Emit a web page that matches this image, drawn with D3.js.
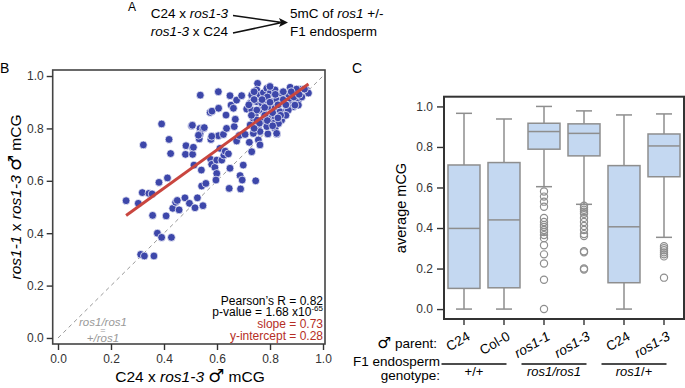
<!DOCTYPE html>
<html>
<head>
<meta charset="utf-8">
<script src="https://cdn.jsdelivr.net/npm/d3@7"></script>
<style>
  body { margin: 0; background: #fff; }
  svg { display: block; font-family: "Liberation Sans", Arial, "DejaVu Sans", sans-serif; }
</style>
</head>
<body>
<svg id="fig" width="685" height="388"></svg>
<script>
// ---- panel B data (reciprocal crosses, mCG) ----
const scatterX = [
  0.257, 0.303, 0.318, 0.322, 0.343, 0.355, 0.357, 0.381, 0.391, 0.408,
  0.413, 0.419, 0.425, 0.433, 0.444, 0.450, 0.457, 0.479, 0.483, 0.481,
  0.496, 0.504, 0.508, 0.508, 0.513, 0.517, 0.526, 0.533, 0.536, 0.536,
  0.541, 0.542, 0.547, 0.548, 0.558, 0.537, 0.574, 0.581, 0.577, 0.576,
  0.580, 0.592, 0.599, 0.596, 0.599, 0.605, 0.606, 0.605, 0.611, 0.618,
  0.624, 0.626, 0.631, 0.636, 0.643, 0.634, 0.646, 0.649, 0.649, 0.653,
  0.662, 0.665, 0.669, 0.674, 0.674, 0.684, 0.689, 0.693, 0.699, 0.687,
  0.695, 0.706, 0.712, 0.722, 0.731, 0.731, 0.746, 0.737, 0.753, 0.756,
  0.762, 0.762, 0.792, 0.823, 0.826, 0.312, 0.326, 0.362, 0.375, 0.391,
  0.428, 0.507, 0.511, 0.530, 0.552, 0.580,
  0.731, 0.750, 0.762, 0.775, 0.788, 0.800, 0.819, 0.832, 0.844, 0.876,
  0.895, 0.913, 0.932, 0.938, 0.725, 0.750, 0.769, 0.788, 0.806, 0.825,
  0.844, 0.863, 0.882, 0.907, 0.731, 0.744, 0.775, 0.794, 0.819, 0.838,
  0.863, 0.888, 0.907, 0.750, 0.775, 0.800, 0.819, 0.844, 0.869, 0.725,
  0.756, 0.788, 0.813, 0.819, 0.825, 0.762, 0.737, 0.832, 0.875, 0.894,
  0.913, 0.945, 0.740, 0.760, 0.780, 0.790, 0.810, 0.830, 0.850, 0.860,
  0.870, 0.890, 0.900, 0.920, 0.800, 0.770, 0.750, 0.730, 0.790, 0.810,
  0.840, 0.860, 0.880, 0.910, 0.930, 0.720, 0.740, 0.820, 0.850, 0.780,
  0.800, 0.830, 0.760, 0.740
];
const scatterY = [
  0.524, 0.514, 0.555, 0.737, 0.552, 0.550, 0.468, 0.594, 0.817, 0.466,
  0.611, 0.758, 0.704, 0.495, 0.518, 0.525, 0.489, 0.535, 0.734, 0.701,
  0.514, 0.810, 0.726, 0.701, 0.660, 0.497, 0.535, 0.760, 0.800, 0.779,
  0.641, 0.580, 0.505, 0.800, 0.590, 0.927, 0.861, 0.866, 0.758, 0.682,
  0.663, 0.651, 0.628, 0.603, 0.679, 0.940, 0.877, 0.772, 0.724, 0.679,
  0.777, 0.698, 0.713, 0.800, 0.703, 0.851, 0.571, 0.648, 0.925, 0.889,
  0.877, 0.807, 0.835, 0.908, 0.752, 0.773, 0.569, 0.925, 0.660, 0.620,
  0.603, 0.777, 0.874, 0.747, 0.711, 0.927, 0.600, 0.838, 0.972, 0.756,
  0.737, 0.787, 0.779, 0.817, 0.779, 0.319, 0.313, 0.313, 0.400, 0.384,
  0.384, 0.812, 0.728, 0.774, 0.803, 0.770,
  0.927, 0.947, 0.927, 0.936, 0.953, 0.934, 0.947, 0.927, 0.934, 0.957,
  0.931, 0.949, 0.936, 0.946, 0.896, 0.902, 0.896, 0.908, 0.902, 0.908,
  0.896, 0.915, 0.902, 0.908, 0.870, 0.851, 0.864, 0.883, 0.877, 0.864,
  0.870, 0.883, 0.889, 0.832, 0.826, 0.839, 0.845, 0.832, 0.870, 0.813,
  0.800, 0.807, 0.819, 0.800, 0.781, 0.788, 0.781, 0.819, 0.915, 0.889,
  0.940, 0.935, 0.910, 0.870, 0.850, 0.920, 0.860, 0.890, 0.910, 0.850,
  0.930, 0.920, 0.950, 0.920, 0.960, 0.910, 0.870, 0.850, 0.830, 0.810,
  0.850, 0.890, 0.940, 0.930, 0.950, 0.890, 0.940, 0.930, 0.940, 0.880,
  0.900, 0.840, 0.820, 0.800
];
const fitSlope = 0.73;
const fitIntercept = 0.28;
const axisTicks = [0, 0.2, 0.4, 0.6, 0.8, 1.0];

// ---- panel C data (average mCG per F1 endosperm) ----
const parents = ['C24', 'Col-0', 'ros1-1', 'ros1-3', 'C24', 'ros1-3'];
const parentItalic = [false, false, true, true, false, true];
const whiskerLow = [0.0, 0.0, 0.604, 0.517, 0.0, 0.354];
const q1 = [0.102, 0.105, 0.789, 0.756, 0.130, 0.653];
const median = [0.398, 0.440, 0.876, 0.867, 0.406, 0.805];
const q3 = [0.711, 0.723, 0.917, 0.914, 0.708, 0.864];
const whiskerHigh = [0.966, 0.938, 1.0, 0.978, 0.958, 0.963];
const outliers = [
  [],
  [],
  [0.58, 0.555, 0.53, 0.505, 0.45, 0.43, 0.415, 0.405, 0.39, 0.38, 0.365, 0.35, 0.315, 0.27, 0.225, 0.145, 0.0],
  [0.51, 0.50, 0.49, 0.48, 0.47, 0.45, 0.43, 0.41, 0.39, 0.37, 0.36, 0.285, 0.28, 0.2, 0.195],
  [],
  [0.31, 0.30, 0.29, 0.28, 0.27, 0.26, 0.155]
];
const genotypeLabels = ['+/+', 'ros1/ros1', 'ros1/+'];
const genotypeFirst = [0, 2, 4];
const genotypeLast = [1, 3, 5];

const svg = d3.select('#fig');
const dark = '#333';
const MALE = '\u2642';

// append a large "male" sign like the one in the figure
let addMale = (sel) => sel.append('tspan')
  .attr('font-family', 'DejaVu Sans').attr('font-size', '1.15em').text(MALE);

// ---------- panel A ----------
let gA = svg.append('g');
gA.append('text').attr('x', 128).attr('y', 11).attr('font-size', 12).text('A');
let leftA = gA.append('g').attr('font-size', 13.5).attr('text-anchor', 'end');
let t1 = leftA.append('text').attr('x', 228).attr('y', 18);
t1.append('tspan').text('C24 x ');
t1.append('tspan').attr('font-style', 'italic').text('ros1-3');
let t2 = leftA.append('text').attr('x', 228).attr('y', 35.5);
t2.append('tspan').attr('font-style', 'italic').text('ros1-3');
t2.append('tspan').text(' x C24');
gA.append('path').attr('d', 'M233,15.5 L282,22.5 M233,33 L282,22.5')
  .attr('stroke', '#111').attr('stroke-width', 1.6).attr('fill', 'none');
gA.append('path').attr('d', 'M288,22.5 L279,18 L281,22.5 L279,27 Z').attr('fill', '#111');
let rightA = gA.append('g').attr('font-size', 13.5);
let t3 = rightA.append('text').attr('x', 290).attr('y', 18);
t3.append('tspan').text('5mC of ');
t3.append('tspan').attr('font-style', 'italic').text('ros1');
t3.append('tspan').text(' +/-');
rightA.append('text').attr('x', 290).attr('y', 35.5).text('F1 endosperm');

// ---------- panel B ----------
svg.append('text').attr('x', 0).attr('y', 73).attr('font-size', 14).text('B');

let xB = d3.scaleLinear().domain([-0.02, 1.0075]).range([52.7, 325]);
let yB = d3.scaleLinear().domain([-0.023, 1.023]).range([344, 70]);
let gB = svg.append('g');

gB.append('line')
  .attr('x1', xB(0)).attr('y1', yB(0)).attr('x2', xB(1)).attr('y2', yB(1))
  .attr('stroke', '#999').attr('stroke-width', 1).attr('stroke-dasharray', '4,3.5');

gB.append('g').selectAll('circle')
  .data(scatterX)
  .join('circle')
  .attr('cx', d => xB(d))
  .attr('cy', (d, i) => yB(scatterY[i]))
  .attr('r', 3.9)
  .attr('fill', '#3d47aa')
  .attr('stroke', '#fff')
  .attr('stroke-width', 0.7);

let xMin = d3.min(scatterX), xMax = d3.max(scatterX);
gB.append('line')
  .attr('x1', xB(xMin)).attr('y1', yB(fitIntercept + fitSlope * xMin))
  .attr('x2', xB(xMax)).attr('y2', yB(fitIntercept + fitSlope * xMax))
  .attr('stroke', '#c9463f').attr('stroke-width', 3);

gB.append('rect').attr('x', 52.7).attr('y', 70).attr('width', 325 - 52.7).attr('height', 274)
  .attr('fill', 'none').attr('stroke', '#444').attr('stroke-width', 1.6);

let xAxisB = gB.append('g').attr('transform', 'translate(0,344)')
  .call(d3.axisBottom(xB).tickValues(axisTicks).tickFormat(d3.format('.1f')).tickSize(6).tickPadding(4));
let yAxisB = gB.append('g').attr('transform', 'translate(52.7,0)')
  .call(d3.axisLeft(yB).tickValues(axisTicks).tickFormat(d3.format('.1f')).tickSize(6).tickPadding(3));
[xAxisB, yAxisB].forEach(a => {
  a.select('.domain').remove();
  a.selectAll('line').attr('stroke', dark).attr('stroke-width', 1.4);
  a.selectAll('text').attr('font-size', 12).attr('fill', dark).attr('font-family', null);
});

let xl = gB.append('text').attr('x', 190).attr('y', 382).attr('text-anchor', 'middle').attr('font-size', 15.5);
xl.append('tspan').text('C24 x ');
xl.append('tspan').attr('font-style', 'italic').text('ros1-3');
xl.append('tspan').text(' ');
addMale(xl);
xl.append('tspan').text(' mCG');

let yl = gB.append('text').attr('transform', 'translate(21,197) rotate(-90)')
  .attr('text-anchor', 'middle').attr('font-size', 15.5);
yl.append('tspan').attr('font-style', 'italic').text('ros1-1');
yl.append('tspan').text(' x ');
yl.append('tspan').attr('font-style', 'italic').text('ros1-3');
yl.append('tspan').text(' ');
addMale(yl);
yl.append('tspan').text(' mCG');

let stats = gB.append('g').attr('text-anchor', 'end').attr('font-size', 12);
stats.append('text').attr('x', 323).attr('y', 304.5).text('Pearson\u2019s R = 0.82');
let pv = stats.append('text').attr('x', 323).attr('y', 316.3);
pv.append('tspan').text('p-value = 1.68 x10');
pv.append('tspan').attr('font-size', 8).attr('dy', -5).text('-65');
stats.append('text').attr('x', 323).attr('y', 328.1).attr('fill', '#b52e25').text('slope = 0.73');
stats.append('text').attr('x', 323).attr('y', 339.9).attr('fill', '#b52e25').text('y-intercept = 0.28');

let note = gB.append('g').attr('text-anchor', 'middle').attr('font-size', 11.5)
  .attr('fill', '#999').attr('font-style', 'italic');
note.append('text').attr('x', 103).attr('y', 325.5).text('ros1/ros1');
note.append('text').attr('x', 103).attr('y', 333).attr('font-size', 9).attr('font-style', 'normal').text('=');
note.append('text').attr('x', 103).attr('y', 342).text('+/ros1');

// ---------- panel C ----------
svg.append('text').attr('x', 352).attr('y', 73).attr('font-size', 14).text('C');

let xC = d3.scaleBand().domain(d3.range(parents.length)).range([444, 684])
  .paddingInner(0.2).paddingOuter(0.1);
let yC = d3.scaleLinear().domain([-0.049, 1.048]).range([319, 96.7]);
let bw = xC.bandwidth();
let cx = i => xC(i) + bw / 2;
let gC = svg.append('g');
let boxStroke = '#8e8e8e';

let boxes = gC.selectAll('g.box').data(parents).join('g').attr('class', 'box');
boxes.append('line')
  .attr('x1', (d, i) => cx(i)).attr('x2', (d, i) => cx(i))
  .attr('y1', (d, i) => yC(whiskerLow[i])).attr('y2', (d, i) => yC(q1[i]))
  .attr('stroke', boxStroke).attr('stroke-width', 1.5);
boxes.append('line')
  .attr('x1', (d, i) => cx(i)).attr('x2', (d, i) => cx(i))
  .attr('y1', (d, i) => yC(q3[i])).attr('y2', (d, i) => yC(whiskerHigh[i]))
  .attr('stroke', boxStroke).attr('stroke-width', 1.5);
[whiskerLow, whiskerHigh].forEach(arr => {
  boxes.append('line')
    .attr('x1', (d, i) => cx(i) - bw / 4).attr('x2', (d, i) => cx(i) + bw / 4)
    .attr('y1', (d, i) => yC(arr[i])).attr('y2', (d, i) => yC(arr[i]))
    .attr('stroke', boxStroke).attr('stroke-width', 1.5);
});
boxes.append('rect')
  .attr('x', (d, i) => xC(i)).attr('width', bw)
  .attr('y', (d, i) => yC(q3[i])).attr('height', (d, i) => yC(q1[i]) - yC(q3[i]))
  .attr('fill', '#c4d8f1').attr('stroke', boxStroke).attr('stroke-width', 1.5);
boxes.append('line')
  .attr('x1', (d, i) => xC(i)).attr('x2', (d, i) => xC(i) + bw)
  .attr('y1', (d, i) => yC(median[i])).attr('y2', (d, i) => yC(median[i]))
  .attr('stroke', boxStroke).attr('stroke-width', 1.5);
boxes.each(function (d, i) {
  d3.select(this).selectAll('circle').data(outliers[i]).join('circle')
    .attr('cx', cx(i)).attr('cy', v => yC(v)).attr('r', 3.6)
    .attr('fill', 'none').attr('stroke', boxStroke).attr('stroke-width', 1.2);
});

gC.append('rect').attr('x', 444).attr('y', 96.7).attr('width', 240).attr('height', 222.3)
  .attr('fill', 'none').attr('stroke', dark).attr('stroke-width', 2);

let yAxisC = gC.append('g').attr('transform', 'translate(444,0)')
  .call(d3.axisLeft(yC).tickValues(axisTicks).tickFormat(d3.format('.1f')).tickSize(7).tickPadding(4));
yAxisC.select('.domain').remove();
yAxisC.selectAll('line').attr('stroke', dark).attr('stroke-width', 1.4);
yAxisC.selectAll('text').attr('font-size', 12).attr('fill', dark).attr('font-family', null);

gC.selectAll('line.xtick').data(parents).join('line').attr('class', 'xtick')
  .attr('x1', (d, i) => cx(i)).attr('x2', (d, i) => cx(i)).attr('y1', 319).attr('y2', 325)
  .attr('stroke', dark).attr('stroke-width', 1.4);
gC.selectAll('text.xlab').data(parents).join('text').attr('class', 'xlab')
  .attr('transform', (d, i) => `translate(${cx(i) + 7},339) rotate(-30)`)
  .attr('text-anchor', 'end').attr('font-size', 13.5)
  .attr('font-style', (d, i) => parentItalic[i] ? 'italic' : null)
  .text(d => d);

gC.append('text').attr('transform', 'translate(406,208) rotate(-90)')
  .attr('text-anchor', 'middle').attr('font-size', 14.5).text('average mCG');

let rowLab = gC.append('g').attr('text-anchor', 'end').attr('font-size', 13.5);
let pl = rowLab.append('text').attr('x', 437).attr('y', 348);
addMale(pl);
pl.append('tspan').text(' parent:');
rowLab.append('text').attr('x', 440).attr('y', 366).text('F1 endosperm');
rowLab.append('text').attr('x', 440).attr('y', 380).text('genotype:');

genotypeLabels.forEach((lab, k) => {
  let mid = (cx(genotypeFirst[k]) + cx(genotypeLast[k])) / 2 - 10;
  gC.append('line').attr('x1', mid - 32.5).attr('x2', mid + 32.5).attr('y1', 364).attr('y2', 364)
    .attr('stroke', '#111').attr('stroke-width', 1.5);
  let t = gC.append('text').attr('x', mid).attr('y', 376).attr('text-anchor', 'middle').attr('font-size', 13);
  if (lab === '+/+') {
    t.text(lab);
  } else if (lab === 'ros1/+') {
    t.append('tspan').attr('font-style', 'italic').text('ros1');
    t.append('tspan').text('/+');
  } else {
    t.attr('font-style', 'italic').text(lab);
  }
});
</script>
</body>
</html>
